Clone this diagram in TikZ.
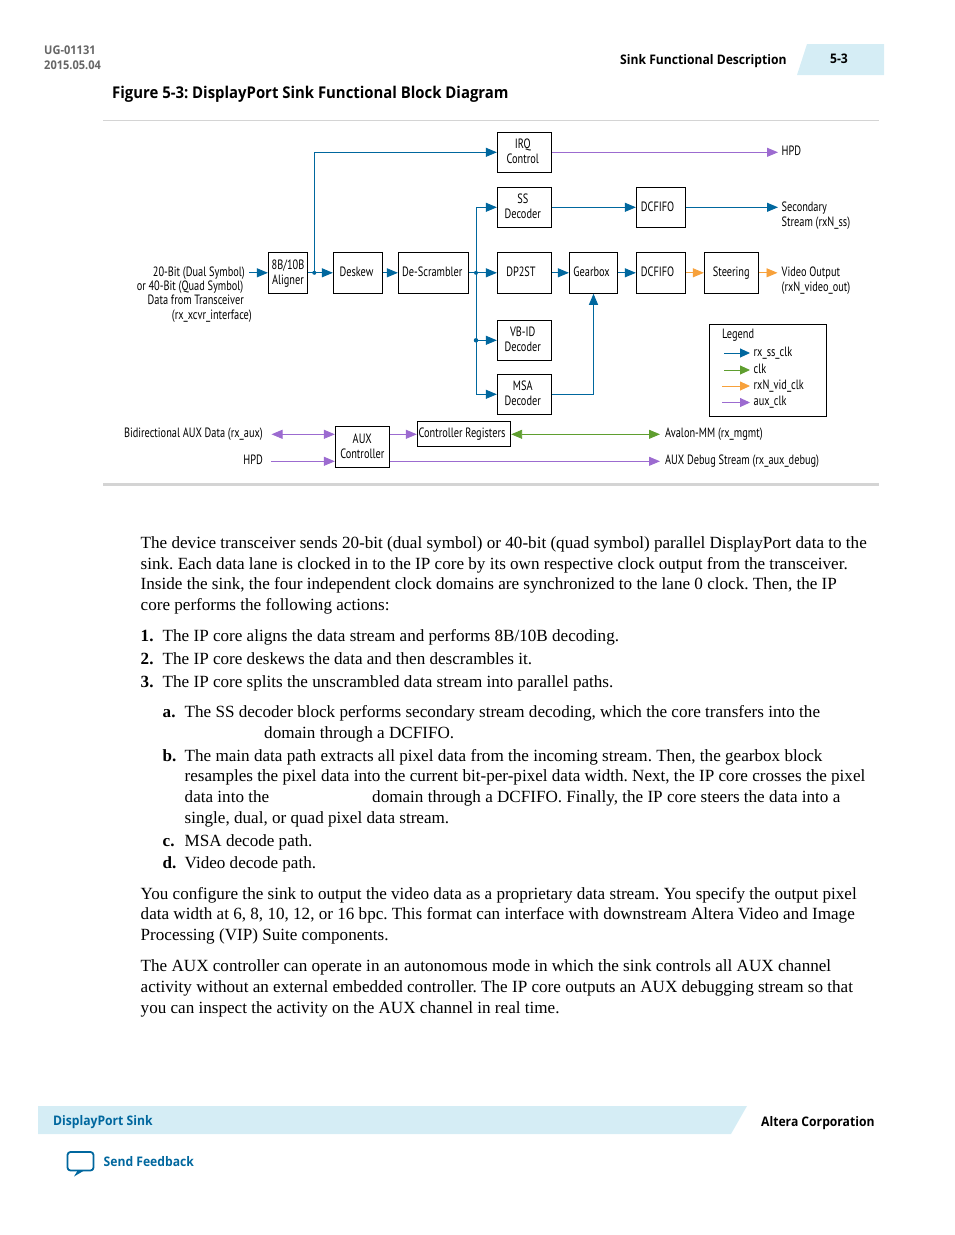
\documentclass[tikz,border=0pt]{standalone}
\usepackage{fontspec}
\setmainfont{Liberation Serif}
\newfontfamily\diagfont[FakeStretch=0.765]{PT Sans}
\newfontfamily\headfont[FakeStretch=0.92]{Open Sans}
\usetikzlibrary{arrows.meta}
\frenchspacing
\definecolor{clkblue}{HTML}{00679E}
\definecolor{clkgreen}{HTML}{5F9E2F}
\definecolor{clkorange}{HTML}{F7A13B}
\definecolor{clkpurple}{HTML}{9C6BD0}
\definecolor{bandblue}{HTML}{D5EDF5}
\definecolor{rulegray}{HTML}{D4D4D4}
\newcommand{\pad}[1]{\hspace*{#1pt}}
\tikzset{
	blockbox/.style={draw=black, line width=0.9pt, inner sep=0pt, align=center, text depth=1.5pt, font=\diagfont\fontsize{13.5}{15}\selectfont},
	difflabel/.style={inner sep=0pt, text height=10pt, text depth=3.5pt, font=\diagfont\fontsize{13.5}{15}\selectfont},
	sidelabel/.style={inner sep=0pt, align=left, font=\diagfont\fontsize{13.5}{15}\selectfont},
	bodytext/.style={anchor=base west, inner sep=0pt, font=\fontsize{17.1}{20}\selectfont},
	headtext/.style={anchor=west, inner sep=0pt, font=\headfont\bfseries\fontsize{13.2}{16}\selectfont},
	junction/.style={circle, fill=clkblue, inner sep=0pt, minimum size=4pt},
	sig/.style={line width=0.9pt, -{Triangle[length=11pt,width=9pt]}},
	bisig/.style={line width=0.9pt, {Triangle[length=11pt,width=9pt]}-{Triangle[length=11pt,width=9pt]}},
	keysig/.style={line width=0.9pt, shorten >=3.5pt, -{Triangle[length=10pt,width=9pt]}}
}
\begin{document}
\begin{tikzpicture}[x=1pt,y=-1pt]
	\useasboundingbox (0,0) rectangle (954,1235);
	
	% header and footer
	\node[anchor=west, inner sep=0pt, text=black!60, align=left, font=\headfont\bfseries\fontsize{12}{15}\selectfont] (docid) at (44,58) {UG-01131\\2015.05.04};
	\fill[bandblue] (807,44) -- (884,44) -- (884,75) -- (797,75) -- cycle;
	\node[headtext] (section) at (620,61) {Sink Functional Description};
	\node[inner sep=0pt, font=\headfont\bfseries\fontsize{13.2}{16}\selectfont] (pagenum) at (839,59) {5-3};
	\node[headtext, font=\headfont\bfseries\fontsize{16.2}{20}\selectfont] (figtitle) at (112,94) {Figure 5-3: DisplayPort Sink Functional Block Diagram};
	\fill[bandblue] (38,1106) -- (747,1106) -- (731,1134) -- (38,1134) -- cycle;
	\node[headtext, text=clkblue] (footname) at (53,1122.5) {DisplayPort Sink};
	\node[headtext] (footcorp) at (761,1123.5) {Altera Corporation};
	\node[headtext, text=clkblue] (feedback) at (103.5,1161.5) {Send Feedback};
	\draw[clkblue, line width=1.8pt, rounded corners=3pt, line join=round] (67.5,1152) rectangle (93.5,1170.5);
	\fill[clkblue] (78,1170) -- (74,1176.5) -- (85,1170) -- cycle;
	
	% rules round the figure
	\draw[rulegray, line width=1pt] (103,120.5) -- (879,120.5);
	\draw[rulegray, line width=3pt] (103,484.5) -- (879,484.5);
	
	% blocks
	\node[blockbox, minimum width=39.4pt, minimum height=41pt] (aligner) at (288,272.8) {8B/10B\\Aligner};
	\node[blockbox, minimum width=49.4pt, minimum height=41pt] (deskew) at (358,272.8) {Deskew\pad{3}};
	\node[blockbox, minimum width=70pt, minimum height=41pt] (descr) at (433.3,272.8) {De-Scrambler\pad{2}};
	\node[blockbox, minimum width=54.4pt, minimum height=40pt] (irq) at (524.5,152.3) {IRQ\pad{3.5}\\Control\pad{3.5}};
	\node[blockbox, minimum width=54.4pt, minimum height=40pt] (ssdec) at (524.5,207.3) {SS\pad{3.5}\\Decoder\pad{3.5}};
	\node[blockbox, minimum width=54.4pt, minimum height=41pt] (dpst) at (524.5,272.8) {DP2ST\pad{7}};
	\node[blockbox, minimum width=54.4pt, minimum height=40pt] (vbid) at (524.5,340.3) {VB-ID\pad{3.5}\\Decoder\pad{3.5}};
	\node[blockbox, minimum width=54.4pt, minimum height=40pt] (msa) at (524.5,394.3) {MSA\pad{3.5}\\Decoder\pad{3.5}};
	\node[blockbox, minimum width=48.4pt, minimum height=41pt] (gearbox) at (593.5,272.8) {Gearbox\pad{4}};
	\node[blockbox, minimum width=49pt, minimum height=40pt] (fifoss) at (660.8,207.3) {DCFIFO\pad{6.5}};
	\node[blockbox, minimum width=49pt, minimum height=41pt] (fifovid) at (660.8,272.8) {DCFIFO\pad{6.5}};
	\node[blockbox, minimum width=54pt, minimum height=41pt] (steering) at (731.3,272.8) {Steering};
	\node[blockbox, minimum width=54pt, minimum height=41pt] (aux) at (362.3,446.8) {AUX\\Controller};
	\node[blockbox, minimum width=93.4pt, minimum height=25pt] (ctrl) at (464,433.8) {Controller Registers\pad{4}};
	\node[blockbox, minimum width=117pt, minimum height=92pt] (legend) at (767.8,370.3) {};
	
	% free ends and branch points
	\coordinate (datain) at (249,272.8);
	\coordinate (hpdout) at (778,152.3);
	\coordinate (ssout) at (778,207.3);
	\coordinate (vidout) at (777.5,272.8);
	\coordinate (auxdata) at (271.5,434.3);
	\coordinate (hpdin) at (271,461.3);
	\coordinate (mmout) at (660,434.3);
	\coordinate (debugout) at (660,461.3);
	\node[junction] (alignjoin) at (314.3,272.8) {};
	\node[junction] (descrjoin) at (476,272.8) {};
	\node[junction, minimum size=4.5pt] (vbidjoin) at (476,340.3) {};
	
	% labels
	\node[difflabel, anchor=east] (in1) at (245,273.5) {20-Bit (Dual Symbol)};
	\node[difflabel, anchor=east] (in2) at (243.5,287.5) {or 40-Bit (Quad Symbol)};
	\node[difflabel, anchor=east] (in3) at (244,301.5) {Data from Transceiver};
	\node[difflabel, anchor=east] (in4) at (252,316.5) {(rx\_xcvr\_interface)};
	\node[difflabel, anchor=east] (auxlabel) at (263,434) {Bidirectional AUX Data (rx\_aux)};
	\node[difflabel, anchor=east] (hpdlabel) at (263,461) {HPD};
	\node[difflabel, anchor=west] (hpdoutlabel) at (781.5,152) {HPD};
	\node[sidelabel, anchor=west] (sslabel) at (781.5,216) {Secondary\\Stream (rxN\_ss)};
	\node[sidelabel, anchor=west] (vidlabel) at (781.5,281) {Video Output\\(rxN\_video\_out)};
	\node[difflabel, anchor=west] (mmlabel) at (665,434) {Avalon-MM (rx\_mgmt)};
	\node[difflabel, anchor=west] (debuglabel) at (665,461) {AUX Debug Stream (rx\_aux\_debug)};
	
	% main data path
	\draw[sig, clkblue] (datain) -- (aligner);
	\draw[sig, clkblue] (aligner) -- (deskew);
	\draw[sig, clkblue] (deskew) -- (descr);
	\draw[sig, clkblue] (descr) -- (dpst);
	\draw[sig, clkblue] (dpst) -- (gearbox);
	\draw[sig, clkblue] (gearbox) -- (fifovid);
	\draw[sig, clkorange] (fifovid) -- (steering);
	\draw[sig, clkorange] (steering) -- (vidout);
	
	% branches
	\draw[sig, clkblue] (alignjoin.center) |- (irq);
	\draw[sig, clkblue] (descrjoin.center) |- (ssdec);
	\draw[sig, clkblue] (descrjoin.center) -- (vbidjoin.center) -- (vbid);
	\draw[sig, clkblue] (vbidjoin.center) |- (msa);
	\draw[sig, clkblue] (msa) -| (gearbox);
	\draw[sig, clkblue] (ssdec) -- (fifoss);
	\draw[sig, clkblue] (fifoss) -- (ssout);
	\draw[sig, clkpurple] (irq) -- (hpdout);
	
	% aux channel
	\draw[bisig, clkpurple] (auxdata) -- (auxdata -| aux.west);
	\draw[sig, clkpurple] (hpdin) -- (hpdin -| aux.west);
	\draw[sig, clkpurple] (auxdata -| aux.east) -- (auxdata -| ctrl.west);
	\draw[bisig, clkgreen] (mmout -| ctrl.east) -- (mmout);
	\draw[sig, clkpurple] (debugout -| aux.east) -- (debugout);
	
	% legend
	\node[difflabel, anchor=west] (legendtitle) at (722,335) {Legend};
	\node[difflabel, anchor=west] (keyss) at (753.5,353) {rx\_ss\_clk};
	\node[difflabel, anchor=west] (keyclk) at (753.5,370) {clk};
	\node[difflabel, anchor=west] (keyvid) at (753.5,386) {rxN\_vid\_clk};
	\node[difflabel, anchor=west] (keyaux) at (753.5,402.5) {aux\_clk};
	\coordinate (startss) at (724,353);
	\coordinate (startclk) at (724,370);
	\coordinate (startvid) at (722,386);
	\coordinate (startaux) at (722,402.5);
	\draw[keysig, clkblue] (startss) -- (keyss.west);
	\draw[keysig, clkgreen] (startclk) -- (keyclk.west);
	\draw[keysig, clkorange] (startvid) -- (keyvid.west);
	\draw[keysig, clkpurple] (startaux) -- (keyaux.west);
	
	% running text
	\foreach \xpos/\ypos/\txt in {
		140.5/548/{The device transceiver sends 20-bit (dual symbol) or 40-bit (quad symbol) parallel DisplayPort data to the},
		140.5/569/{sink. Each data lane is clocked in to the IP core by its own respective clock output from the transceiver.},
		140.5/589/{Inside the sink, the four independent clock domains are synchronized to the lane 0 clock. Then, the IP},
		140.5/610/{core performs the following actions:},
		162.5/641/{The IP core aligns the data stream and performs 8B/10B decoding.},
		162.5/664/{The IP core deskews the data and then descrambles it.},
		162.5/687/{The IP core splits the unscrambled data stream into parallel paths.},
		184.5/717/{The SS decoder block performs secondary stream decoding, which the core transfers into the},
		264/738/{domain through a DCFIFO.},
		184.5/761/{The main data path extracts all pixel data from the incoming stream. Then, the gearbox block},
		184.5/781/{resamples the pixel data into the current bit-per-pixel data width. Next, the IP core crosses the pixel},
		184.5/802/{data into the},
		372/802/{domain through a DCFIFO. Finally, the IP core steers the data into a},
		184.5/823/{single, dual, or quad pixel data stream.},
		184.5/846/{MSA decode path.},
		184.5/868/{Video decode path.},
		140.5/899/{You configure the sink to output the video data as a proprietary data stream. You specify the output pixel},
		140.5/919/{data width at 6, 8, 10, 12, or 16 bpc. This format can interface with downstream Altera Video and Image},
		140.5/940/{Processing (VIP) Suite components.},
		140.5/971/{The AUX controller can operate in an autonomous mode in which the sink controls all AUX channel},
		140.5/992/{activity without an external embedded controller. The IP core outputs an AUX debugging stream so that},
		140.5/1013/{you can inspect the activity on the AUX channel in real time.}}
		\node[bodytext] (line\xpos-\ypos) at (\xpos,\ypos) {\txt};
	\foreach \xpos/\ypos/\txt in {140.5/641/1., 140.5/664/2., 140.5/687/3., 162.5/717/a., 162.5/761/b., 162.5/846/c., 162.5/868/d.}
		\node[bodytext, font=\bfseries\fontsize{17.1}{20}\selectfont] (item\xpos-\ypos) at (\xpos,\ypos) {\txt};
	
\end{tikzpicture}
\end{document}
